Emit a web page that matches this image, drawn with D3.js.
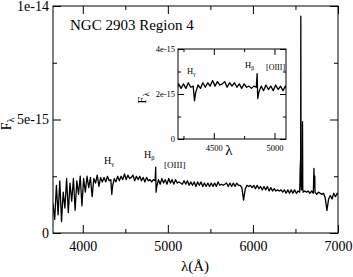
<!DOCTYPE html>
<html>
<head>
<meta charset="utf-8">
<script src="https://cdn.jsdelivr.net/npm/d3@7"></script>
<style>
  body { margin: 0; background: #fff; }
  svg { display: block; }
  svg text { font-family: "Liberation Serif", "Times New Roman", "DejaVu Serif", serif; }
</style>
</head>
<body>
<div id="chart"></div>
<script>
// flux in units of 1e-15, sampled every 20 A from 3650 A
const gridStart = 3650;
const gridStep = 20;
const fluxGrid = [
  1.3, 0.6, 2.1, 0.8, 2.3, 0.5, 1.8, 1.1, 2.4, 0.9,
  2.2, 1.4, 2.4, 1.0, 2.3, 1.7, 2.5, 1.2, 2.4, 1.8,
  2.5, 2.0, 2.45, 1.6, 2.4, 2.2, 2.55, 2.05, 2.45, 2.25,
  2.45, 2.25, 2.5, 2.3, 2.35, 2.05, 2.4, 2.25, 2.5, 2.3,
  2.5, 2.35, 2.6, 2.35, 2.55, 2.4, 2.45, 2.55, 2.3, 2.5,
  2.35, 2.5, 2.3, 2.45, 2.25, 2.45, 2.3, 2.35, 2.25, 2.35,
  2.3, 2.05, 2.35, 2.15, 2.4, 2.2, 2.35, 2.15, 2.4, 2.2,
  2.35, 2.15, 2.35, 2.2, 2.25, 2.2, 2.15, 2.3, 2.15, 2.3,
  2.1, 2.25, 2.1, 2.25, 2.05, 2.25, 2.1, 2.25, 2.05, 2.2,
  2.05, 2.2, 2.05, 2.2, 2.05, 2.2, 2.05, 2.25, 2.1, 2.15,
  2.1, 2.15, 2.2, 2.05, 2.2, 2.05, 2.2, 2.05, 2.2, 2.1,
  2.1, 2.0, 1.45, 1.95, 2.1, 2.05, 2.1, 2.0, 2.1, 1.95,
  2.1, 1.95, 2.05, 1.9, 2.05, 1.9, 2.05, 1.85, 2.0, 1.85,
  1.95, 1.85, 1.9, 1.85, 1.9, 1.8, 1.9, 1.75, 1.9, 1.75,
  1.9, 1.75, 1.9, 1.75, 1.85, 1.8, 1.9, 1.8, 1.85, 1.8,
  1.85, 1.75, 1.85, 1.75, 1.8, 1.7, 1.8, 1.75, 1.7, 1.75,
  1.55, 1.0, 1.5, 1.65, 1.5, 1.75, 1.6, 1.75
];

const lineFeatures = [
  [4341, 1.7],
  [4857, 2.9], [4862, 1.8],
  [6556, 2.9], [6561, 3.3], [6563, 9.55], [6566, 2.2],
  [6581, 2.0], [6583, 4.9], [6586, 1.95],
  [6717, 2.85], [6722, 2.0], [6727, 2.5],
  [7000, 1.7]
];

const mainXTicks = [4000, 5000, 6000, 7000];
const mainXMinor = [4500, 5500, 6500];
const mainYTicks = [0, 5e-15, 1e-14];
const mainYLabels = ["0", "5e-15", "1e-14"];
const mainYMinor = [2.5e-15, 7.5e-15];

const insetXTicks = [4500, 5000];
const insetXMinor = [4250, 4750];
const insetYTicks = [0, 2e-15, 4e-15];
const insetYLabels = ["0", "2e-15", "4e-15"];
const insetYMinor = [1e-15, 3e-15];

const spectrum = fluxGrid
  .map((f, i) => [gridStart + i * gridStep, f * 1e-15])
  .concat(lineFeatures.map(d => [d[0], d[1] * 1e-15]))
  .sort((a, b) => a[0] - b[0]);

const width = 353, height = 277;
const svg = d3.select("#chart").append("svg")
  .attr("width", width).attr("height", height);

function panel(g, x, y, o) {
  const [x0, x1] = x.range();
  const [y0, y1] = y.range();
  const id = "clip" + o.name;
  svg.append("clipPath").attr("id", id)
    .append("rect").attr("x", x0).attr("y", y1).attr("width", x1 - x0).attr("height", y0 - y1);

  g.append("rect").attr("x", x0).attr("y", y1).attr("width", x1 - x0).attr("height", y0 - y1)
    .attr("fill", "#fff");

  const lo = x.domain()[0], hi = x.domain()[1];
  g.append("path")
    .datum(spectrum.filter(d => d[0] >= lo - 40 && d[0] <= hi + 40))
    .attr("clip-path", `url(#${id})`)
    .attr("fill", "none").attr("stroke", "#000").attr("stroke-width", o.lw)
    .attr("stroke-linejoin", "round")
    .attr("d", d3.line().x(d => x(d[0])).y(d => y(d[1])));

  const axes = [
    [d3.axisBottom(x), `translate(0,${y0})`, o.xt, o.xm, true],
    [d3.axisTop(x), `translate(0,${y1})`, o.xt, o.xm, false],
    [d3.axisLeft(y), `translate(${x0},0)`, o.yt, o.ym, true],
    [d3.axisRight(y), `translate(${x1},0)`, o.yt, o.ym, false]
  ];
  axes.forEach(([ax, tr, major, minor, lab], k) => {
    const isX = k < 2;
    const a = g.append("g").attr("transform", tr)
      .call(ax.tickValues(major).tickSize(-o.major).tickPadding(isX ? o.padX : o.padY)
        .tickFormat(lab ? (isX ? d3.format("d") : (d, i) => o.yl[i]) : ""));
    a.select(".domain").remove();
    const b = g.append("g").attr("transform", tr)
      .call(ax.tickValues(minor).tickSize(-o.minor).tickFormat(""));
    b.select(".domain").remove();
  });
  g.selectAll(".tick line").attr("stroke", "#000");
  g.selectAll(".tick text")
    .attr("font-family", null).attr("font-size", o.fs).attr("fill", "#000");
  g.selectAll("g").attr("font-family", null);

  g.append("rect").attr("x", x0).attr("y", y1).attr("width", x1 - x0).attr("height", y0 - y1)
    .attr("fill", "none").attr("stroke", "#000").attr("stroke-width", 1);
}

// main panel
const x = d3.scaleLinear().domain([3650, 7000]).range([53, 338]);
const y = d3.scaleLinear().domain([0, 1e-14]).range([233, 6]);
const gMain = svg.append("g");
panel(gMain, x, y, {
  name: "main", lw: 1.3, major: 8, minor: 4, padX: 8, padY: 4, fs: 14,
  xt: mainXTicks, xm: mainXMinor, yt: mainYTicks, ym: mainYMinor, yl: mainYLabels
});

// inset panel
const xi = d3.scaleLinear().domain([4205, 5095]).range([178, 286]);
const yi = d3.scaleLinear().domain([0, 4e-15]).range([139, 49]);
const gIn = svg.append("g");
panel(gIn, xi, yi, {
  name: "inset", lw: 1.3, major: 6, minor: 3, padX: 6, padY: 3, fs: 8.5,
  xt: insetXTicks, xm: insetXMinor, yt: insetYTicks, ym: insetYMinor, yl: insetYLabels
});

// labels
function fLambda(gx, gy, fs, sub) {
  const t = svg.append("text")
    .attr("transform", `translate(${gx},${gy}) rotate(-90)`)
    .attr("font-size", fs).attr("text-anchor", "middle");
  t.append("tspan").text("F");
  t.append("tspan").attr("font-size", sub).attr("dy", 3).text("λ");
}
fLambda(11, 124, 14, 10);
fLambda(146, 98, 13, 9);

svg.append("text").attr("x", 195).attr("y", 271).attr("text-anchor", "middle")
  .attr("font-size", 15).text("λ(Å)");
svg.append("text").attr("x", 229).attr("y", 155).attr("text-anchor", "middle")
  .attr("font-size", 15).text("λ");

svg.append("text").attr("x", 70).attr("y", 30).attr("font-size", 15)
  .text("NGC 2903 Region 4");

function lineLabel(lx, ly, base, sub, fs) {
  const t = svg.append("text").attr("x", lx).attr("y", ly).attr("font-size", fs);
  t.append("tspan").text(base);
  if (sub) t.append("tspan").attr("font-size", fs * 0.65).attr("dy", 2).text(sub);
}
lineLabel(104, 164, "H", "γ", 10);
lineLabel(144, 158, "H", "β", 10);
lineLabel(164, 168, "[OIII]", null, 9);
lineLabel(187, 74, "H", "γ", 8.5);
lineLabel(245, 68, "H", "β", 8.5);
lineLabel(266, 70, "[OIII]", null, 8);
</script>
</body>
</html>
